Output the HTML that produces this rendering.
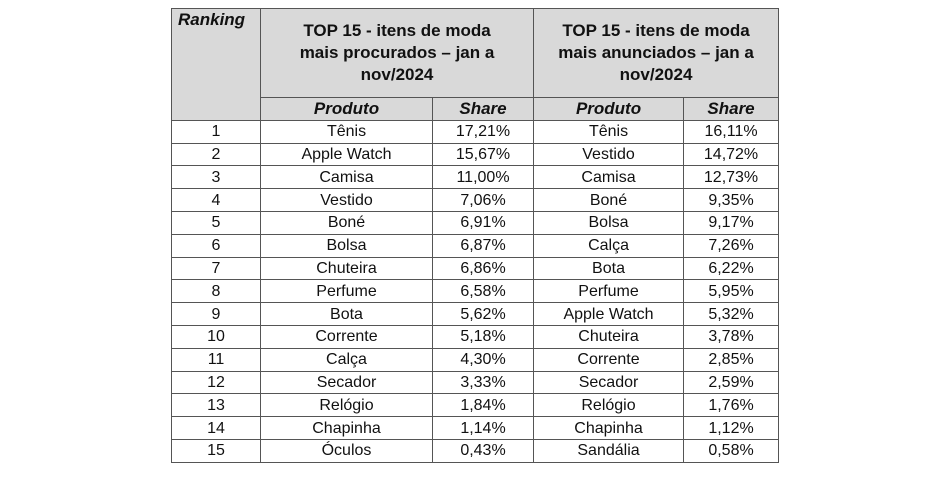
<!DOCTYPE html>
<html><head><meta charset="utf-8"><style>
body{margin:0;width:947px;height:477px;background:#fff;position:relative;overflow:hidden;font-family:"Liberation Sans",Arial,sans-serif;color:#111}
table{position:absolute;left:171px;top:8px;border-collapse:collapse;table-layout:fixed;width:607px}
td,th{border:1px solid #555;padding:0;text-align:center;font-size:16px;line-height:21px;height:21.8px}
th{background:#d9d9d9;font-weight:bold}
.rk{font-style:italic;vertical-align:top;text-align:left;padding-left:6px;font-size:17px}
.title{font-size:17px;line-height:22px;height:88px;vertical-align:middle}
.sub{font-style:italic;font-size:17px}
</style></head><body>
<table>
<colgroup><col style="width:89px"><col style="width:172px"><col style="width:101px"><col style="width:150px"><col style="width:95px"></colgroup>
<tr>
<th rowspan="2" class="rk">Ranking</th>
<th colspan="2" class="title">TOP 15 - itens de moda<br>mais procurados &ndash; jan a<br>nov/2024</th>
<th colspan="2" class="title">TOP 15 - itens de moda<br>mais anunciados &ndash; jan a<br>nov/2024</th>
</tr>
<tr>
<th class="sub">Produto</th>
<th class="sub">Share</th>
<th class="sub">Produto</th>
<th class="sub">Share</th>
</tr>
<tbody id="rows"></tbody>
</table>
<script>
const p1=["Tênis","Apple Watch","Camisa","Vestido","Boné","Bolsa","Chuteira","Perfume","Bota","Corrente","Calça","Secador","Relógio","Chapinha","Óculos"];
const s1=["17,21%","15,67%","11,00%","7,06%","6,91%","6,87%","6,86%","6,58%","5,62%","5,18%","4,30%","3,33%","1,84%","1,14%","0,43%"];
const p2=["Tênis","Vestido","Camisa","Boné","Bolsa","Calça","Bota","Perfume","Apple Watch","Chuteira","Corrente","Secador","Relógio","Chapinha","Sandália"];
const s2=["16,11%","14,72%","12,73%","9,35%","9,17%","7,26%","6,22%","5,95%","5,32%","3,78%","2,85%","2,59%","1,76%","1,12%","0,58%"];
const tb=document.getElementById('rows');
for(let i=0;i<p1.length;i++){
  const tr=document.createElement('tr');
  
  
  [String(i+1),p1[i],s1[i],p2[i],s2[i]].forEach((v,j)=>{
    const td=document.createElement('td');
    
    
    td.textContent=v;tr.appendChild(td);
  });
  tb.appendChild(tr);
}
</script>
</body></html>
